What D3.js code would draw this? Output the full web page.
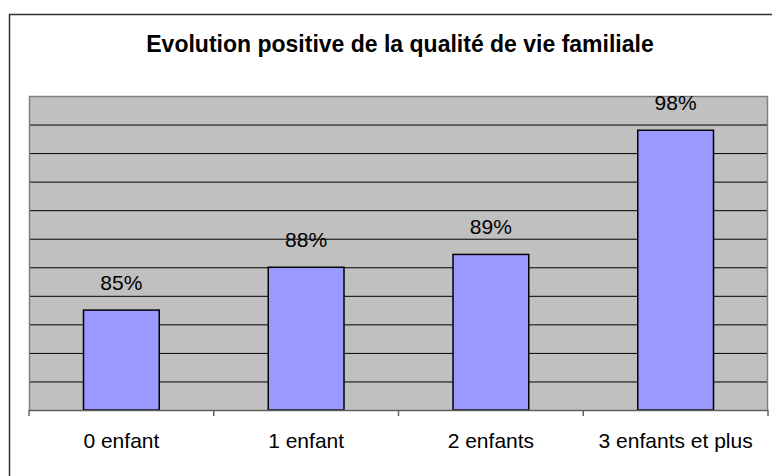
<!DOCTYPE html>
<html>
<head>
<meta charset="utf-8">
<script src="https://cdn.jsdelivr.net/npm/d3@7"></script>
<style>
  body { margin: 0; background: #fff; }
  svg { display: block; font-family: "Liberation Sans", Arial, sans-serif; }
</style>
</head>
<body>
<svg class="chart"></svg>
<script>
/*Chart data*/
const categories = ["0 enfant", "1 enfant", "2 enfants", "3 enfants et plus"]
const values = [0.850, 0.880, 0.889, 0.976]
const yDomain = [0.78, 1.0]
const title = "Evolution positive de la qualité de vie familiale"

const width = 772, height = 476
const plot = { left: 29, top: 96, right: 768, bottom: 410 }

var chart = d3.select(".chart")
    .attr("width", width)
    .attr("height", height)

/*Outer frame*/
chart.append("rect")
    .attr("x", 9.5).attr("y", 14.5)
    .attr("width", 800).attr("height", 500)
    .attr("fill", "#fff")
    .attr("stroke", "#333")
    .attr("stroke-width", 1.5)

/*Title*/
chart.append("text")
    .attr("x", 400)
    .attr("y", 52)
    .attr("text-anchor", "middle")
    .style("font-size", "23px")
    .style("font-weight", "bold")
    .text(title)

var x = d3.scaleBand()
    .domain(categories)
    .range([plot.left, plot.right])

var y = d3.scaleLinear()
    .domain(yDomain)
    .range([plot.bottom, plot.top])

/*Plot background*/
chart.append("rect")
    .attr("x", plot.left).attr("y", plot.top)
    .attr("width", plot.right - plot.left)
    .attr("height", plot.bottom - plot.top)
    .attr("fill", "#c0c0c0")

/*Gridlines*/
var grid = chart.append("g")
    .attr("transform", "translate(" + plot.left + ",0)")
    .call(d3.axisLeft(y).ticks(11).tickSize(-(plot.right - plot.left)).tickFormat(""))
grid.select(".domain").remove()
grid.selectAll("line").attr("stroke", "#000").attr("stroke-width", 1)

/*Plot border (left, top, right)*/
chart.append("path")
    .attr("d", "M" + (plot.left + 0.5) + "," + plot.bottom + "V" + (plot.top + 0.5) +
               "H" + (plot.right - 0.5) + "V" + plot.bottom)
    .attr("fill", "none")
    .attr("stroke", "#808080")
    .attr("stroke-width", 1.5)

/*Bars*/
var barW = x.bandwidth() * 0.41
chart.append("g")
  .selectAll("rect")
  .data(values)
  .enter()
  .append("rect")
    .attr("x", (d, i) => x(categories[i]) + (x.bandwidth() - barW) / 2)
    .attr("y", (d) => y(d))
    .attr("width", barW)
    .attr("height", (d) => y(yDomain[0]) - y(d))
    .attr("fill", "#9999ff")
    .attr("stroke", "#000")
    .attr("stroke-width", 1.5)

/*Value labels*/
var pct = d3.format(".0%")
chart.append("g")
  .selectAll("text")
  .data(values)
  .enter()
  .append("text")
    .attr("x", (d, i) => x(categories[i]) + x.bandwidth() / 2)
    .attr("y", (d) => y(d) - 20)
    .attr("text-anchor", "middle")
    .style("font-size", "21px")
    .text((d) => pct(d))

/*X axis with ticks between categories*/
var boundaries = categories.map((c) => x(c)).concat([plot.right])
chart.append("line")
    .attr("x1", plot.left).attr("x2", plot.right)
    .attr("y1", plot.bottom + 0.5).attr("y2", plot.bottom + 0.5)
    .attr("stroke", "#606060")
    .attr("stroke-width", 1.5)
chart.append("g")
  .selectAll("line")
  .data(boundaries)
  .enter()
  .append("line")
    .attr("x1", (d) => d).attr("x2", (d) => d)
    .attr("y1", plot.bottom).attr("y2", plot.bottom + 6)
    .attr("stroke", "#606060")
    .attr("stroke-width", 1.5)

chart.append("g")
  .selectAll("text")
  .data(categories)
  .enter()
  .append("text")
    .attr("x", (d) => x(d) + x.bandwidth() / 2)
    .attr("y", 448)
    .attr("text-anchor", "middle")
    .style("font-size", "21px")
    .text((d) => d)
</script>
</body>
</html>
